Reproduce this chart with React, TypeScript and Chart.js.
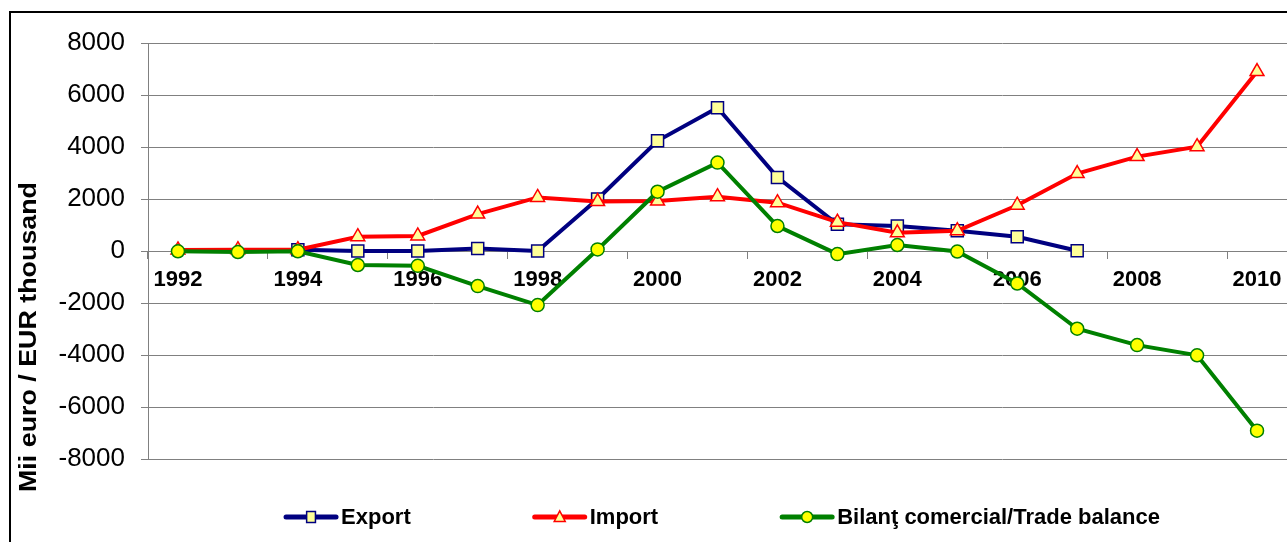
import React, { useEffect, useRef } from "react";
import { Chart, registerables } from "chart.js";

Chart.register(...registerables);

const years = [
  "1992", "1993", "1994", "1995", "1996", "1997", "1998", "1999", "2000", "2001",
  "2002", "2003", "2004", "2005", "2006", "2007", "2008", "2009", "2010",
];
const exportValues = [
  null, null, 50, 0, 0, 100, 0, 2000, 4240, 5510,
  2830, 1030, 960, 780, 550, 10, null, null, null,
];
const importValues = [
  40, 50, 50, 550, 580, 1420, 2060, 1900, 1920, 2090,
  1860, 1110, 700, 780, 1760, 2980, 3630, 4010, 6900,
];
const balanceValues = [
  -10, -40, -10, -540, -570, -1350, -2080, 60, 2280, 3400,
  960, -120, 230, -20, -1250, -2990, -3620, -4010, -6910,
];
const seriesLabels = ["Export", "Import", "Bilanţ comercial/Trade balance"];
const yTitle = "Mii euro / EUR thousand";
const yMin = -8000;
const yMax = 8000;
const yStep = 2000;

const FONT = '"Liberation Sans", Arial, Helvetica, sans-serif';

function drawMarker(ctx: CanvasRenderingContext2D, style: string, x: number, y: number, r: number, fill: string, stroke: string, lw: number) {
  ctx.beginPath();
  if (style === "rect") {
    ctx.rect(x - r * 0.8, y - r, r * 1.6, r * 2);
  } else if (style === "triangle") {
    ctx.moveTo(x, y - r * 1.1);
    ctx.lineTo(x + r, y + r * 0.8);
    ctx.lineTo(x - r, y + r * 0.8);
    ctx.closePath();
  } else {
    ctx.arc(x, y, r, 0, Math.PI * 2);
  }
  ctx.fillStyle = fill;
  ctx.fill();
  ctx.lineWidth = lw;
  ctx.strokeStyle = stroke;
  ctx.stroke();
}

const decorPlugin = {
  id: "decor",
  afterDraw(chart: any) {
    const ctx: CanvasRenderingContext2D = chart.ctx;
    ctx.save();
    // outer frame
    ctx.strokeStyle = "#000";
    ctx.lineWidth = 2;
    ctx.strokeRect(10, 12, chart.width + 40, chart.height + 40);

    // y title
    ctx.save();
    ctx.font = `bold 24px ${FONT}`;
    const tw = ctx.measureText(yTitle).width;
    ctx.translate(29, 337);
    ctx.rotate(-Math.PI / 2);
    ctx.scale(310 / tw, 1);
    ctx.textAlign = "center";
    ctx.textBaseline = "middle";
    ctx.fillStyle = "#000";
    ctx.fillText(yTitle, 0, 0);
    ctx.restore();

    // legend
    const lf = `bold 22px ${FONT}`;
    ctx.font = lf;
    const sampleW = 54;
    const textGap = 3;
    const itemGap = 122;
    const datasets = chart.data.datasets;
    const widths = datasets.map((ds: any) => sampleW + textGap + ctx.measureText(ds.label).width);
    const total = widths.reduce((a: number, b: number) => a + b, 0) + itemGap * (datasets.length - 1);
    let x = 722 - total / 2;
    const y = 517;
    datasets.forEach((ds: any, i: number) => {
      ctx.beginPath();
      ctx.lineCap = "round";
      ctx.strokeStyle = ds.borderColor;
      ctx.lineWidth = 5;
      ctx.moveTo(x + 2, y);
      ctx.lineTo(x + sampleW - 2, y);
      ctx.stroke();
      ctx.lineCap = "butt";
      drawMarker(ctx, ds.pointStyle, x + sampleW / 2, y, 5.5, ds.pointBackgroundColor, ds.pointBorderColor, 1.5);
      ctx.fillStyle = "#000";
      ctx.textAlign = "left";
      ctx.textBaseline = "middle";
      ctx.font = lf;
      ctx.fillText(ds.label, x + sampleW + textGap, y + 1);
      x += widths[i] + itemGap;
    });
    ctx.restore();
  },
};

export default function App() {
  const canvasRef = useRef<HTMLCanvasElement | null>(null);

  useEffect(() => {
    const canvas = canvasRef.current;
    if (!canvas) return;
    const chart = new Chart(canvas, {
      type: "line",
      data: {
        labels: years,
        datasets: [
          {
            label: seriesLabels[0],
            data: exportValues,
            borderColor: "#000080",
            borderWidth: 4,
            pointStyle: "rect",
            pointRadius: 8.5,
            pointBackgroundColor: "#FFFF99",
            pointBorderColor: "#000080",
            pointBorderWidth: 1.5,
            tension: 0,
            order: 3,
          },
          {
            label: seriesLabels[1],
            data: importValues,
            borderColor: "#FF0000",
            borderWidth: 4,
            pointStyle: "triangle",
            pointRadius: 8,
            pointBackgroundColor: "#FFFF99",
            pointBorderColor: "#FF0000",
            pointBorderWidth: 1.5,
            tension: 0,
            order: 2,
          },
          {
            label: seriesLabels[2],
            data: balanceValues,
            borderColor: "#008000",
            borderWidth: 4,
            pointStyle: "circle",
            pointRadius: 6.5,
            pointBackgroundColor: "#FFFF00",
            pointBorderColor: "#008000",
            pointBorderWidth: 1.5,
            tension: 0,
            order: 1,
          },
        ],
      },
      options: {
        animation: false,
        responsive: false,
        devicePixelRatio: 1,
        layout: { autoPadding: false, padding: { left: 0, top: 43, right: 0, bottom: 83 } },
        plugins: {
          legend: { display: false },
          tooltip: { enabled: false },
        },
        scales: {
          y: {
            min: yMin,
            max: yMax,
            ticks: {
              stepSize: yStep,
              font: { size: 26, family: FONT },
              color: "#000",
              padding: 16,
              callback: (v: any) => String(v),
            },
            grid: { color: "#808080", lineWidth: 1, tickLength: 7 },
            border: { color: "#808080", width: 1 },
            afterFit: (s: any) => {
              s.width = 148;
            },
          },
          x: {
            position: { y: 0 } as any,
            offset: true,
            ticks: {
              autoSkip: false,
              maxRotation: 0,
              minRotation: 0,
              font: { size: 22, weight: "bold", family: FONT },
              color: "#000",
              padding: 9,
              callback: (_v: any, i: number) => (i % 2 === 0 ? years[i] : ""),
            },
            grid: {
              offset: true,
              drawOnChartArea: false,
              drawTicks: true,
              tickLength: 7,
              color: (c: any) => (c.index % 2 === 0 ? "#808080" : "rgba(0,0,0,0)"),
            },
            border: { color: "#808080", width: 1 },
            afterFit: (s: any) => {
              s.height = 0;
              s.paddingLeft = 0;
              s.paddingRight = 0;
            },
          },
        },
      },
      plugins: [decorPlugin],
    });
    return () => chart.destroy();
  }, []);

  return (
    <div style={{ position: "fixed", left: 0, top: 0, width: 1287, height: 542, background: "#fff" }}>
      <canvas ref={canvasRef} width={1287} height={542} style={{ display: "block" }} />
    </div>
  );
}
